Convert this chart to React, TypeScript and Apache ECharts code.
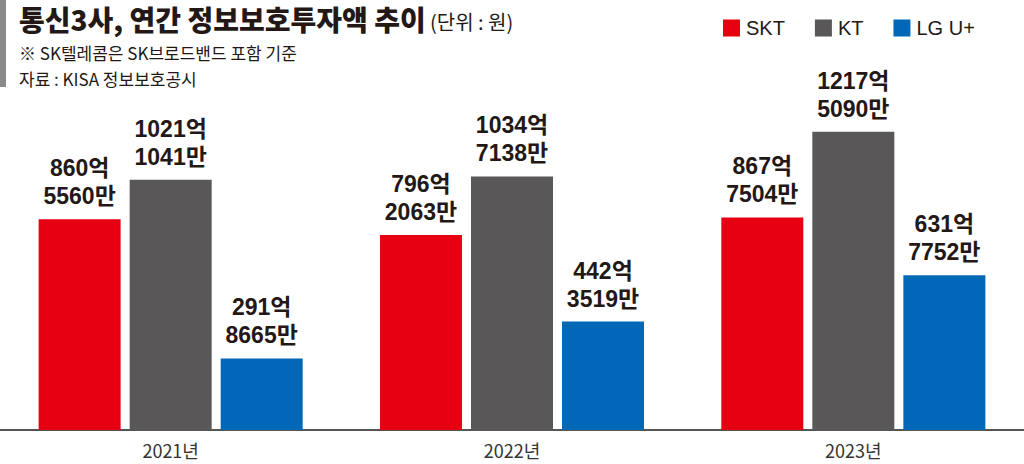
import React, { useEffect, useRef } from "react";
import * as echarts from "echarts";

const categories = ["2021년", "2022년", "2023년"];
const seriesNames = ["SKT", "KT", "LG U+"];
// values in 만원
const sktValues = [8605560, 7962063, 8677504];
const ktValues = [10211041, 10347138, 12175090];
const lguValues = [2918665, 4423519, 6317752];
const colors = ["#E60012", "#595757", "#0068B7"];

const titleText = "통신3사, 연간 정보보호투자액 추이";
const unitText = "(단위 : 원)";
const noteText = "※ SK텔레콤은 SK브로드밴드 포함 기준";
const sourceText = "자료 : KISA 정보보호공시";

const FONT = '"Liberation Sans", "Noto Sans CJK KR", sans-serif';
const NARROW = '"Liberation Sans Narrow", "Noto Sans CJK KR", sans-serif';

function fmt(v: number): string {
  const eok = Math.floor(v / 10000);
  const man = v % 10000;
  return `${eok}억\n${man}만`;
}

export default function App() {
  const ref = useRef<HTMLDivElement>(null);
  useEffect(() => {
    if (!ref.current) return;
    const chart = echarts.init(ref.current, null, { renderer: "svg" });
    const all = [sktValues, ktValues, lguValues];
    chart.setOption({
      animation: false,
      backgroundColor: "#ffffff",
      legend: {
        left: 718,
        top: 13,
        icon: "rect",
        itemWidth: 17,
        itemHeight: 17,
        itemGap: 30,
        textStyle: { fontSize: 20, color: "#231815", fontFamily: FONT, padding: [0, 0, 0, 1] },
        data: seriesNames,
      },
      grid: { left: 0, right: 0, top: 87, bottom: 34 },
      xAxis: {
        type: "category",
        data: categories,
        axisLine: { lineStyle: { color: "#555555", width: 2 } },
        axisTick: { show: false },
        axisLabel: { fontSize: 18, color: "#333333", fontFamily: NARROW, margin: 11 },
      },
      yAxis: {
        type: "value",
        min: 0,
        max: 14000000,
        show: false,
        splitLine: { show: false },
      },
      graphic: [
        { type: "rect", shape: { x: 0, y: 0, width: 6, height: 87 }, style: { fill: "#8a8a8a" } },
        {
          type: "text",
          x: 19,
          y: 19,
          style: {
            text: titleText,
            font: `900 28px "Noto Sans CJK KR", sans-serif`,
            fill: "#231815",
            verticalAlign: "middle",
          },
        },
        {
          type: "text",
          x: 430,
          y: 21,
          style: {
            text: unitText,
            font: `20px ${NARROW}`,
            fill: "#231815",
            verticalAlign: "middle",
          },
        },
        {
          type: "text",
          x: 19,
          y: 52,
          style: {
            text: noteText,
            font: `17px ${NARROW}`,
            fill: "#231815",
            verticalAlign: "middle",
          },
        },
        {
          type: "text",
          x: 19,
          y: 78,
          style: {
            text: sourceText,
            font: `17px ${NARROW}`,
            fill: "#231815",
            verticalAlign: "middle",
          },
        },
      ],
      series: seriesNames.map((name, i) => ({
        name,
        type: "bar",
        data: all[i],
        barWidth: 82,
        barGap: "11%",
        itemStyle: { color: colors[i] },
        label: {
          show: true,
          position: "top",
          distance: 9,
          formatter: (p: any) => fmt(p.value),
          fontSize: 23,
          lineHeight: 28,
          fontWeight: "bold",
          color: "#231815",
          fontFamily: FONT,
        },
      })),
    });
    return () => chart.dispose();
  }, []);
  return (
    <div
      ref={ref}
      style={{ position: "absolute", left: 0, top: 0, width: 1024, height: 464 }}
    />
  );
}
